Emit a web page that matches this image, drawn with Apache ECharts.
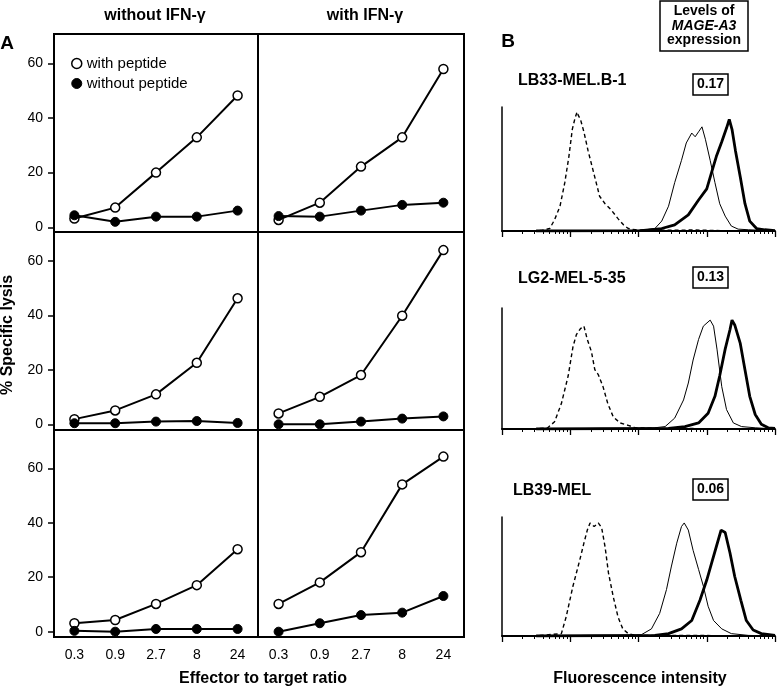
<!DOCTYPE html>
<html>
<head>
<meta charset="utf-8">
<script src="https://cdn.jsdelivr.net/npm/echarts@6/dist/echarts.min.js"></script>
<style>
html,body{margin:0;padding:0;background:#fff;}
#chart{width:778px;height:687px;}
</style>
</head>
<body>
<div id="chart"></div>
<script>
// ---------- Panel A data ----------
const ratios = ['0.3', '0.9', '2.7', '8', '24'];
const yTickValues = [0, 20, 40, 60];

// row 1: LB33-MEL.B-1
const r1NoIFN_withPep = [3.2, 7.2, 20.0, 32.9, 48.2];
const r1NoIFN_noPep   = [4.4, 2.0, 3.9, 3.9, 6.1];
const r1IFN_withPep   = [2.7, 9.0, 22.2, 32.9, 57.9];
const r1IFN_noPep     = [4.1, 3.9, 6.1, 8.2, 9.0];
// row 2: LG2-MEL-5-35
const r2NoIFN_withPep = [1.9, 5.1, 11.0, 22.6, 46.3];
const r2NoIFN_noPep   = [0.4, 0.4, 1.0, 1.2, 0.5];
const r2IFN_withPep   = [4.0, 10.1, 18.1, 39.9, 64.0];
const r2IFN_noPep     = [0.0, 0.0, 1.0, 2.1, 2.9];
// row 3: LB39-MEL
const r3NoIFN_withPep = [3.1, 4.3, 10.2, 17.1, 30.3];
const r3NoIFN_noPep   = [0.3, 0.0, 1.0, 1.0, 1.0];
const r3IFN_withPep   = [10.2, 18.1, 29.2, 54.1, 64.3];
const r3IFN_noPep     = [0.0, 3.1, 6.1, 7.0, 13.1];

// ---------- Panel B data (x = log10 fluorescence, y = relative count) ----------
const decadeTicks = [0, 1, 2, 3, 4];
const minorMultipliers = [2, 3, 4, 5, 6, 7, 8, 9];

const h1Dashed = [[0.45,0],[0.58,0.5],[0.70,2],[0.77,9],[0.85,20],[0.92,39],[0.98,60],[1.03,82],[1.07,91],[1.10,96],[1.12,93],[1.15,90],[1.20,80],[1.26,65],[1.32,52],[1.38,39],[1.43,28],[1.51,22],[1.60,17],[1.70,10],[1.78,5],[1.85,2],[1.95,1],[2.2,0.5],[2.8,0.8],[3.2,0.3],[4,0]];
const h1Thin   = [[0.5,0],[2.04,0.5],[2.24,2],[2.34,8],[2.44,20],[2.53,39],[2.63,57],[2.70,71],[2.78,79],[2.83,76],[2.88,80],[2.93,84],[2.98,74],[3.05,57],[3.12,39],[3.19,22],[3.27,12],[3.36,4],[3.46,1.5],[3.61,1],[4,0]];
const h1Thick  = [[0.5,0],[2.04,0.3],[2.34,2],[2.53,5],[2.73,13],[2.88,25],[3.0,34],[3.07,47],[3.14,60],[3.22,72],[3.29,83],[3.33,90],[3.37,82],[3.42,65],[3.49,44],[3.56,22],[3.63,8],[3.73,2],[3.85,1],[4,0.3]];

const h2Dashed = [[0.45,0],[0.67,1],[0.77,6],[0.87,21],[0.97,44],[1.04,68],[1.09,78],[1.15,83],[1.20,85],[1.25,74],[1.31,64],[1.36,49],[1.41,45],[1.48,35],[1.55,21],[1.63,10],[1.73,5],[1.85,3],[1.95,1],[2.3,0.5],[3.0,0.3],[4,0]];
const h2Thin   = [[0.5,0],[2.24,1],[2.39,2],[2.53,9],[2.66,24],[2.73,38],[2.80,57],[2.88,74],[2.95,85],[3.05,90],[3.10,85],[3.15,66],[3.22,35],[3.29,16],[3.39,5],[3.51,2],[3.71,1],[4,0]];
const h2Thick  = [[0.5,0],[2.44,0.5],[2.68,2],[2.88,5],[3.02,13],[3.12,27],[3.19,44],[3.27,66],[3.34,82],[3.37,90],[3.41,86],[3.49,71],[3.56,49],[3.63,27],[3.71,12],[3.80,4],[3.90,1],[4,0.5]];

const h3Dashed = [[0.45,0],[0.87,2],[0.94,16],[1.04,42],[1.14,64],[1.20,78],[1.25,89],[1.29,95],[1.35,92],[1.41,95],[1.46,91],[1.51,75],[1.56,53],[1.63,33],[1.70,16],[1.77,6],[1.85,2],[1.95,0.5],[2.6,0.5],[3.2,0.3],[4,0]];
const h3Thin   = [[0.5,0],[2.04,1],[2.19,6],[2.31,19],[2.41,39],[2.48,58],[2.56,78],[2.63,92],[2.67,95],[2.73,89],[2.80,72],[2.88,56],[2.95,42],[3.02,25],[3.10,13],[3.22,6],[3.36,2],[3.61,0.5],[4,0]];
const h3Thick  = [[0.5,0],[2.24,0.5],[2.44,2],[2.63,6],[2.78,13],[2.90,30],[3.0,47],[3.07,61],[3.14,75],[3.21,89],[3.27,87],[3.34,70],[3.41,50],[3.50,30],[3.58,13],[3.68,5],[3.80,2],[4,0.5]];

const cellLines = ['LB33-MEL.B-1', 'LG2-MEL-5-35', 'LB39-MEL'];
const expressionLevels = ['0.17', '0.13', '0.06'];

// ---------- build ----------
const FONT = '"Liberation Sans", Arial, Helvetica, sans-serif';
const minorTicks = [];
for (let d = 0; d < 4; d++) minorMultipliers.forEach(m => minorTicks.push(d + Math.log10(m)));

const rowsA = [
  {top: 34, height: 198, min: -1.72, max: 70.7,
   L: [r1NoIFN_withPep, r1NoIFN_noPep], R: [r1IFN_withPep, r1IFN_noPep]},
  {top: 232, height: 198, min: -2.09, max: 70.65,
   L: [r2NoIFN_withPep, r2NoIFN_noPep], R: [r2IFN_withPep, r2IFN_noPep]},
  {top: 430, height: 207, min: -1.95, max: 74.07,
   L: [r3NoIFN_withPep, r3NoIFN_noPep], R: [r3IFN_withPep, r3IFN_noPep]}
];
const colsA = [{left: 54, width: 204}, {left: 258, width: 206}];

const grids = [], xAxes = [], yAxes = [], series = [];

rowsA.forEach((row, ri) => {
  colsA.forEach((col, ci) => {
    const gi = grids.length;
    grids.push({left: col.left, top: row.top, width: col.width, height: row.height,
      show: true, borderColor: '#000', borderWidth: 2, backgroundColor: 'transparent', containLabel: false});
    const isBottom = ri === 2;
    xAxes.push({type: 'category', gridIndex: gi, data: ratios, boundaryGap: true,
      axisLine: {show: false}, axisTick: {show: false},
      axisLabel: {show: isBottom, color: '#000', fontSize: 14, fontFamily: FONT, margin: 11},
      splitLine: {show: false}});
    yAxes.push({type: 'value', gridIndex: gi, min: row.min, max: row.max,
      axisLine: {show: false},
      axisTick: {show: ci === 0, length: 6, lineStyle: {color: '#000', width: 1.5}, customValues: yTickValues},
      axisLabel: {show: ci === 0, color: '#000', fontSize: 14, fontFamily: FONT, margin: 11, customValues: yTickValues},
      splitLine: {show: false}});
    const pair = ci === 0 ? row.L : row.R;
    series.push({name: 'with peptide', type: 'line', xAxisIndex: gi, yAxisIndex: gi, data: pair[0],
      symbol: 'circle', symbolSize: 9, showSymbol: true,
      lineStyle: {color: '#000', width: 2},
      itemStyle: {color: '#fff', borderColor: '#000', borderWidth: 1.5}, z: 3, clip: false});
    series.push({name: 'without peptide', type: 'line', xAxisIndex: gi, yAxisIndex: gi, data: pair[1],
      symbol: 'circle', symbolSize: 9, showSymbol: true,
      lineStyle: {color: '#000', width: 2},
      itemStyle: {color: '#000', borderColor: '#000', borderWidth: 1}, z: 4, clip: false});
  });
});

// Panel B
const rowsB = [
  {top: 107, height: 124, curves: [h1Dashed, h1Thin, h1Thick]},
  {top: 308, height: 121, curves: [h2Dashed, h2Thin, h2Thick]},
  {top: 517, height: 119, curves: [h3Dashed, h3Thin, h3Thick]}
];
rowsB.forEach(row => {
  const gi = grids.length;
  grids.push({left: 502, top: row.top, width: 273, height: row.height, show: false, containLabel: false});
  const xi = xAxes.length;
  xAxes.push({type: 'value', gridIndex: gi, min: 0, max: 4, position: 'bottom',
    axisLine: {show: true, lineStyle: {color: '#000', width: 2}},
    axisTick: {show: true, length: 6, lineStyle: {color: '#000', width: 1.3}, customValues: decadeTicks},
    axisLabel: {show: false}, splitLine: {show: false}});
  xAxes.push({type: 'value', gridIndex: gi, min: 0, max: 4, position: 'bottom', offset: 0,
    axisLine: {show: false},
    axisTick: {show: true, length: 3, lineStyle: {color: '#000', width: 1}, customValues: minorTicks},
    axisLabel: {show: false}, splitLine: {show: false}});
  const yi = yAxes.length;
  yAxes.push({type: 'value', gridIndex: gi, min: 0, max: 100,
    axisLine: {show: true, lineStyle: {color: '#000', width: 1.5}},
    axisTick: {show: false}, axisLabel: {show: false}, splitLine: {show: false}});
  const styles = [
    {width: 1.4, type: [4, 3]},
    {width: 1, type: 'solid'},
    {width: 2.8, type: 'solid'}
  ];
  row.curves.forEach((c, k) => {
    series.push({type: 'line', xAxisIndex: xi, yAxisIndex: yi, data: c, showSymbol: false,
      symbol: 'none', lineStyle: {color: '#000', width: styles[k].width, type: styles[k].type},
      z: 2 + k, silent: true});
  });
});

// text graphics
const graphics = [];
function txt(text, x, y, size, opts) {
  opts = opts || {};
  graphics.push({type: 'text', x: x, y: y, rotation: opts.rotation || 0, z: 10,
    style: {text: text, fill: '#000', font: (opts.italic ? 'italic ' : '') + (opts.weight || 'bold') + ' ' + size + 'px ' + FONT,
      align: opts.align || 'center', verticalAlign: 'middle'}});
}
function box(x, y, w, h) {
  graphics.push({type: 'rect', shape: {x: x, y: y, width: w, height: h}, z: 9,
    style: {fill: 'transparent', stroke: '#000', lineWidth: 1.5}});
}
txt('without IFN-γ', 155, 16, 16);
txt('with IFN-γ', 365, 16, 16);
txt('A', 7, 44, 19);
txt('B', 508, 42, 19);
txt('% Specific lysis', 8, 335, 16, {rotation: Math.PI / 2});
txt('Effector to target ratio', 263, 679, 16);
txt('Fluorescence intensity', 640, 679, 16);
box(660, 1, 88, 50);
txt('Levels of', 704, 11, 14);
txt('MAGE-A3', 704, 26, 14, {italic: true});
txt('expression', 704, 40, 14);
const labelY = [81, 279, 491];
const labelX = [518, 518, 513];
const boxY = [74, 267, 479];
cellLines.forEach((name, i) => {
  txt(name, labelX[i], labelY[i], 16, {align: 'left'});
  box(693, boxY[i], 35, 21);
  txt(expressionLevels[i], 710.5, boxY[i] + 10.5, 14);
});

const chart = echarts.init(document.getElementById('chart'), null, {renderer: 'canvas'});
chart.setOption({
  animation: false,
  backgroundColor: '#fff',
  textStyle: {fontFamily: FONT},
  grid: grids,
  xAxis: xAxes,
  yAxis: yAxes,
  series: series,
  legend: {
    show: true, orient: 'vertical', left: 66, top: 51, itemGap: 5,
    itemWidth: 10, itemHeight: 10, icon: 'circle',
    textStyle: {color: '#000', fontSize: 15, fontFamily: FONT, padding: [0, 0, 0, 0]},
    data: [
      {name: 'with peptide', itemStyle: {color: '#fff', borderColor: '#000', borderWidth: 1.5}},
      {name: 'without peptide', itemStyle: {color: '#000', borderColor: '#000', borderWidth: 1}}
    ],
    selectedMode: false
  },
  graphic: graphics
});
</script>
</body>
</html>
